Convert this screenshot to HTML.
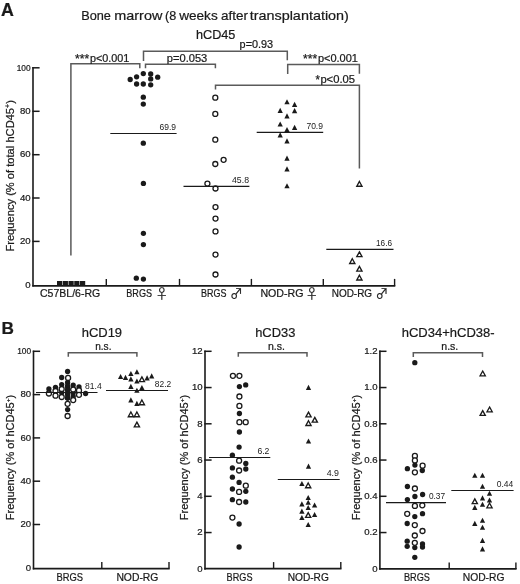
<!DOCTYPE html>
<html><head><meta charset="utf-8"><title>Bone marrow hCD45 figure</title>
<style>
html,body{margin:0;padding:0;background:#fff;}
body{width:520px;height:584px;overflow:hidden;}
svg{display:block;}
svg text{font-family:"Liberation Sans", "DejaVu Sans", sans-serif;fill:#1a1a1a;stroke:#1a1a1a;stroke-width:0.22px;}
</style></head><body>
<svg width="520" height="584" viewBox="0 0 520 584" fill="#1a1a1a">
<text x="1.1" y="15.5" font-size="17.8" font-weight="bold">A</text>
<text x="81.2" y="20.3" font-size="13.3" textLength="29.7" lengthAdjust="spacingAndGlyphs">Bone</text>
<text x="114.3" y="20.3" font-size="13.3" textLength="48.0" lengthAdjust="spacingAndGlyphs">marrow</text>
<text x="165" y="20.3" font-size="13.3" textLength="11.2" lengthAdjust="spacingAndGlyphs">(8</text>
<text x="179.2" y="20.3" font-size="13.3" textLength="38.5" lengthAdjust="spacingAndGlyphs">weeks</text>
<text x="221.1" y="20.3" font-size="13.3" textLength="27.0" lengthAdjust="spacingAndGlyphs">after</text>
<text x="249.7" y="20.3" font-size="13.3" textLength="99.2" lengthAdjust="spacingAndGlyphs">transplantation)</text>
<text x="196" y="38.7" font-size="13.4" textLength="39.4" lengthAdjust="spacingAndGlyphs">hCD45</text>
<line x1="33" y1="67" x2="33" y2="286.6" stroke="#1a1a1a" stroke-width="1.6"/>
<line x1="32.3" y1="67.8" x2="39.6" y2="67.8" stroke="#1a1a1a" stroke-width="1.5"/>
<text x="16.7" y="70.5" font-size="9.6" textLength="13.9" lengthAdjust="spacingAndGlyphs">100</text>
<line x1="32.3" y1="111.3" x2="39.6" y2="111.3" stroke="#1a1a1a" stroke-width="1.5"/>
<text x="30.6" y="114" font-size="9.6" text-anchor="end">80</text>
<line x1="32.3" y1="154.7" x2="39.6" y2="154.7" stroke="#1a1a1a" stroke-width="1.5"/>
<text x="30.6" y="157.4" font-size="9.6" text-anchor="end">60</text>
<line x1="32.3" y1="198" x2="39.6" y2="198" stroke="#1a1a1a" stroke-width="1.5"/>
<text x="30.6" y="200.7" font-size="9.6" text-anchor="end">40</text>
<line x1="32.3" y1="241.4" x2="39.6" y2="241.4" stroke="#1a1a1a" stroke-width="1.5"/>
<text x="30.6" y="244.1" font-size="9.6" text-anchor="end">20</text>
<text x="30.6" y="287.5" font-size="9.6" text-anchor="end">0</text>
<line x1="32.3" y1="285.9" x2="395.3" y2="285.9" stroke="#1a1a1a" stroke-width="1.7"/>
<line x1="106.3" y1="285.9" x2="106.3" y2="278.9" stroke="#1a1a1a" stroke-width="1.4"/>
<line x1="179.5" y1="285.9" x2="179.5" y2="278.9" stroke="#1a1a1a" stroke-width="1.4"/>
<line x1="251.4" y1="285.9" x2="251.4" y2="278.9" stroke="#1a1a1a" stroke-width="1.4"/>
<line x1="323.3" y1="285.9" x2="323.3" y2="278.9" stroke="#1a1a1a" stroke-width="1.4"/>
<line x1="394.6" y1="285.9" x2="394.6" y2="278.9" stroke="#1a1a1a" stroke-width="1.4"/>
<text transform="translate(14.0,251.6) rotate(-90)" font-size="10.3" textLength="151.5" lengthAdjust="spacingAndGlyphs">Frequency (% of total hCD45<tspan font-size="6.5" dy="-3.8">+</tspan><tspan dy="3.8">)</tspan></text>
<text x="40" y="297.1" font-size="10.6" textLength="60.2" lengthAdjust="spacingAndGlyphs">C57BL/6-RG</text>
<text x="126.3" y="297.1" font-size="10.6" textLength="25.7" lengthAdjust="spacingAndGlyphs">BRGS</text>
<text x="201" y="297.1" font-size="10.6" textLength="25.4" lengthAdjust="spacingAndGlyphs">BRGS</text>
<text x="260.4" y="297.1" font-size="10.6" textLength="43.1" lengthAdjust="spacingAndGlyphs">NOD-RG</text>
<text x="331.7" y="297.1" font-size="10.6" textLength="40.4" lengthAdjust="spacingAndGlyphs">NOD-RG</text>
<text x="155.4" y="297.8" font-size="12.6" style="font-family:'Noto Sans CJK JP','DejaVu Sans',sans-serif">♀</text>
<text x="230.0" y="298.0" font-size="12.7" style="font-family:'Noto Sans CJK JP','DejaVu Sans',sans-serif">♂</text>
<text x="305.5" y="297.8" font-size="12.6" style="font-family:'Noto Sans CJK JP','DejaVu Sans',sans-serif">♀</text>
<text x="375.4" y="298.0" font-size="12.7" style="font-family:'Noto Sans CJK JP','DejaVu Sans',sans-serif">♂</text>
<path d="M70.9,255.4V63.8H139.8V68.2" fill="none" stroke="#5a5a5a" stroke-width="1.5"/>
<path d="M143.5,61V51.2H287.3V60.2" fill="none" stroke="#5a5a5a" stroke-width="1.5"/>
<path d="M145.5,68.2V64.2H215.4V68.2" fill="none" stroke="#5a5a5a" stroke-width="1.5"/>
<path d="M287.7,74V64.6H359.4V73.7" fill="none" stroke="#5a5a5a" stroke-width="1.5"/>
<path d="M215.5,89.4V85.3H359.4V168.4" fill="none" stroke="#5a5a5a" stroke-width="1.5"/>
<text x="75" y="62.6" font-size="12.0" textLength="14.3" lengthAdjust="spacingAndGlyphs">***</text>
<text x="89.9" y="61.6" font-size="10.4" textLength="39.5" lengthAdjust="spacingAndGlyphs">p&lt;0.001</text>
<text x="166.8" y="61.7" font-size="10.4" textLength="40.5" lengthAdjust="spacingAndGlyphs">p=0.053</text>
<text x="239.6" y="47.6" font-size="10.4" textLength="33.5" lengthAdjust="spacingAndGlyphs">p=0.93</text>
<text x="303" y="62.5" font-size="12.0" textLength="14.3" lengthAdjust="spacingAndGlyphs">***</text>
<text x="317.9" y="61.5" font-size="10.4" textLength="40.1" lengthAdjust="spacingAndGlyphs">p&lt;0.001</text>
<text x="315.4" y="83.5" font-size="12.0" textLength="4.4" lengthAdjust="spacingAndGlyphs">*</text>
<text x="320.4" y="82.5" font-size="10.4" textLength="34.6" lengthAdjust="spacingAndGlyphs">p&lt;0.05</text>
<rect x="57.00" y="281.0" width="5.2" height="4.6"/>
<rect x="62.75" y="281.0" width="5.2" height="4.6"/>
<rect x="68.50" y="281.0" width="5.2" height="4.6"/>
<rect x="74.25" y="281.0" width="5.2" height="4.6"/>
<rect x="80.00" y="281.0" width="5.2" height="4.6"/>
<circle cx="143.3" cy="73.6" r="2.65"/>
<circle cx="150.7" cy="74" r="2.65"/>
<circle cx="136.6" cy="76.8" r="2.65"/>
<circle cx="130.2" cy="79.5" r="2.65"/>
<circle cx="150.7" cy="78.9" r="2.65"/>
<circle cx="157.7" cy="77.2" r="2.65"/>
<circle cx="136.6" cy="84" r="2.65"/>
<circle cx="143.3" cy="84" r="2.65"/>
<circle cx="150.7" cy="84.8" r="2.65"/>
<circle cx="143.3" cy="97.2" r="2.65"/>
<circle cx="143.3" cy="104.1" r="2.65"/>
<circle cx="143.3" cy="143.2" r="2.65"/>
<circle cx="143.4" cy="183.4" r="2.65"/>
<circle cx="143.4" cy="233.3" r="2.65"/>
<circle cx="143.4" cy="244.6" r="2.65"/>
<circle cx="136.3" cy="278.2" r="2.65"/>
<circle cx="143.4" cy="279.1" r="2.65"/>
<circle cx="215.3" cy="97.7" r="2.5" fill="#fff" stroke="#1a1a1a" stroke-width="1.3"/>
<circle cx="215.3" cy="113.9" r="2.5" fill="#fff" stroke="#1a1a1a" stroke-width="1.3"/>
<circle cx="215.3" cy="139.7" r="2.5" fill="#fff" stroke="#1a1a1a" stroke-width="1.3"/>
<circle cx="223.6" cy="159.8" r="2.5" fill="#fff" stroke="#1a1a1a" stroke-width="1.3"/>
<circle cx="215.3" cy="164" r="2.5" fill="#fff" stroke="#1a1a1a" stroke-width="1.3"/>
<circle cx="207.4" cy="183.6" r="2.5" fill="#fff" stroke="#1a1a1a" stroke-width="1.3"/>
<circle cx="215.5" cy="188.5" r="2.5" fill="#fff" stroke="#1a1a1a" stroke-width="1.3"/>
<circle cx="215.5" cy="207.1" r="2.5" fill="#fff" stroke="#1a1a1a" stroke-width="1.3"/>
<circle cx="215.5" cy="218.6" r="2.5" fill="#fff" stroke="#1a1a1a" stroke-width="1.3"/>
<circle cx="215.5" cy="231.4" r="2.5" fill="#fff" stroke="#1a1a1a" stroke-width="1.3"/>
<circle cx="215.5" cy="254.6" r="2.5" fill="#fff" stroke="#1a1a1a" stroke-width="1.3"/>
<circle cx="215.5" cy="274.5" r="2.5" fill="#fff" stroke="#1a1a1a" stroke-width="1.3"/>
<path d="M287.00,99.15L289.65,104.30L284.35,104.30Z"/>
<path d="M294.60,101.75L297.25,106.90L291.95,106.90Z"/>
<path d="M280.20,107.75L282.85,112.90L277.55,112.90Z"/>
<path d="M294.60,108.05L297.25,113.20L291.95,113.20Z"/>
<path d="M287.00,113.35L289.65,118.50L284.35,118.50Z"/>
<path d="M280.20,121.45L282.85,126.60L277.55,126.60Z"/>
<path d="M294.60,124.85L297.25,130.00L291.95,130.00Z"/>
<path d="M287.00,126.95L289.65,132.10L284.35,132.10Z"/>
<path d="M280.20,132.25L282.85,137.40L277.55,137.40Z"/>
<path d="M287.00,138.25L289.65,143.40L284.35,143.40Z"/>
<path d="M287.00,155.55L289.65,160.70L284.35,160.70Z"/>
<path d="M287.00,166.35L289.65,171.50L284.35,171.50Z"/>
<path d="M287.00,183.15L289.65,188.30L284.35,188.30Z"/>
<path d="M359.40,181.45L362.00,186.20L356.80,186.20Z" fill="#fff" stroke="#1a1a1a" stroke-width="1.35" stroke-linejoin="miter"/>
<path d="M359.40,251.85L362.00,256.60L356.80,256.60Z" fill="#fff" stroke="#1a1a1a" stroke-width="1.35" stroke-linejoin="miter"/>
<path d="M352.30,258.75L354.90,263.50L349.70,263.50Z" fill="#fff" stroke="#1a1a1a" stroke-width="1.35" stroke-linejoin="miter"/>
<path d="M359.40,266.35L362.00,271.10L356.80,271.10Z" fill="#fff" stroke="#1a1a1a" stroke-width="1.35" stroke-linejoin="miter"/>
<path d="M359.40,275.25L362.00,280.00L356.80,280.00Z" fill="#fff" stroke="#1a1a1a" stroke-width="1.35" stroke-linejoin="miter"/>
<line x1="110.3" y1="133.5" x2="176.6" y2="133.5" stroke="#1a1a1a" stroke-width="1.2"/>
<text x="159.5" y="130.4" font-size="9.8" textLength="16.5" lengthAdjust="spacingAndGlyphs" style="stroke-width:0">69.9</text>
<line x1="183.5" y1="186.4" x2="249.4" y2="186.4" stroke="#1a1a1a" stroke-width="1.2"/>
<text x="232" y="182.7" font-size="9.8" textLength="17" lengthAdjust="spacingAndGlyphs" style="stroke-width:0">45.8</text>
<line x1="256.7" y1="132.3" x2="323.2" y2="132.3" stroke="#1a1a1a" stroke-width="1.2"/>
<text x="306.4" y="128.7" font-size="9.8" textLength="16.6" lengthAdjust="spacingAndGlyphs" style="stroke-width:0">70.9</text>
<line x1="326.3" y1="249.4" x2="393.5" y2="249.4" stroke="#1a1a1a" stroke-width="1.2"/>
<text x="376" y="245.9" font-size="9.8" textLength="16" lengthAdjust="spacingAndGlyphs" style="stroke-width:0">16.6</text>
<text x="1.4" y="334.2" font-size="17.2" font-weight="bold">B</text>
<text x="81.7" y="336.7" font-size="13.4" textLength="40.4" lengthAdjust="spacingAndGlyphs">hCD19</text>
<text x="95.2" y="350.4" font-size="10.3" textLength="16.3" lengthAdjust="spacingAndGlyphs">n.s.</text>
<path d="M68.3,356.8V352.7H136.9V356.8" fill="none" stroke="#5a5a5a" stroke-width="1.5"/>
<line x1="33.5" y1="350.6" x2="33.5" y2="569.4" stroke="#1a1a1a" stroke-width="1.6"/>
<line x1="32.8" y1="351.3" x2="40.1" y2="351.3" stroke="#1a1a1a" stroke-width="1.5"/>
<text x="17.2" y="354" font-size="9.6" textLength="13.9" lengthAdjust="spacingAndGlyphs">100</text>
<line x1="32.8" y1="394.6" x2="40.1" y2="394.6" stroke="#1a1a1a" stroke-width="1.5"/>
<text x="31.1" y="397.3" font-size="9.6" text-anchor="end">80</text>
<line x1="32.8" y1="437.9" x2="40.1" y2="437.9" stroke="#1a1a1a" stroke-width="1.5"/>
<text x="31.1" y="440.6" font-size="9.6" text-anchor="end">60</text>
<line x1="32.8" y1="481.2" x2="40.1" y2="481.2" stroke="#1a1a1a" stroke-width="1.5"/>
<text x="31.1" y="483.9" font-size="9.6" text-anchor="end">40</text>
<line x1="32.8" y1="524.5" x2="40.1" y2="524.5" stroke="#1a1a1a" stroke-width="1.5"/>
<text x="31.1" y="527.2" font-size="9.6" text-anchor="end">20</text>
<text x="31.1" y="570.5" font-size="9.6" text-anchor="end">0</text>
<line x1="32.8" y1="568.6" x2="169.7" y2="568.6" stroke="#1a1a1a" stroke-width="1.7"/>
<line x1="101.8" y1="568.6" x2="101.8" y2="562.1" stroke="#1a1a1a" stroke-width="1.4"/>
<line x1="169" y1="568.6" x2="169" y2="562.1" stroke="#1a1a1a" stroke-width="1.4"/>
<text transform="translate(14.0,520.2) rotate(-90)" font-size="10.2" textLength="125.5" lengthAdjust="spacingAndGlyphs">Frequency (% of hCD45<tspan font-size="6.2" dy="-3.6">+</tspan><tspan dy="3.6">)</tspan></text>
<text x="56.4" y="581.1" font-size="10.9" textLength="26.6" lengthAdjust="spacingAndGlyphs">BRGS</text>
<text x="116.4" y="581.1" font-size="10.9" textLength="42.0" lengthAdjust="spacingAndGlyphs">NOD-RG</text>
<circle cx="48.9" cy="389" r="2.65"/>
<circle cx="55.5" cy="387.3" r="2.65"/>
<circle cx="61.7" cy="384.6" r="2.65"/>
<circle cx="61.7" cy="377.5" r="2.65"/>
<circle cx="67.6" cy="371.5" r="2.65"/>
<circle cx="67.6" cy="382.4" r="2.65"/>
<circle cx="67.6" cy="386.2" r="2.65"/>
<circle cx="67.6" cy="390" r="2.65"/>
<circle cx="67.6" cy="394" r="2.65"/>
<circle cx="67.6" cy="398" r="2.65"/>
<circle cx="73.2" cy="385.1" r="2.65"/>
<circle cx="73.2" cy="392.8" r="2.65"/>
<circle cx="73.2" cy="396.4" r="2.65"/>
<circle cx="79" cy="386.8" r="2.65"/>
<circle cx="85.6" cy="393.5" r="2.65"/>
<circle cx="61.7" cy="392.4" r="2.65"/>
<circle cx="67.6" cy="409.6" r="2.65"/>
<circle cx="68.1" cy="377.9" r="2.5" fill="#fff" stroke="#1a1a1a" stroke-width="1.3"/>
<circle cx="48.9" cy="393.5" r="2.5" fill="#fff" stroke="#1a1a1a" stroke-width="1.3"/>
<circle cx="55.5" cy="391" r="2.5" fill="#fff" stroke="#1a1a1a" stroke-width="1.3"/>
<circle cx="55.5" cy="395.7" r="2.5" fill="#fff" stroke="#1a1a1a" stroke-width="1.3"/>
<circle cx="61.7" cy="389" r="2.5" fill="#fff" stroke="#1a1a1a" stroke-width="1.3"/>
<circle cx="61.7" cy="397" r="2.5" fill="#fff" stroke="#1a1a1a" stroke-width="1.3"/>
<circle cx="73.2" cy="389.5" r="2.5" fill="#fff" stroke="#1a1a1a" stroke-width="1.3"/>
<circle cx="73.2" cy="400.1" r="2.5" fill="#fff" stroke="#1a1a1a" stroke-width="1.3"/>
<circle cx="79" cy="390.4" r="2.5" fill="#fff" stroke="#1a1a1a" stroke-width="1.3"/>
<circle cx="79" cy="394.8" r="2.5" fill="#fff" stroke="#1a1a1a" stroke-width="1.3"/>
<circle cx="67.6" cy="403.8" r="2.5" fill="#fff" stroke="#1a1a1a" stroke-width="1.3"/>
<circle cx="67.6" cy="416" r="2.5" fill="#fff" stroke="#1a1a1a" stroke-width="1.3"/>
<circle cx="67.6" cy="386.2" r="2.65"/>
<circle cx="67.6" cy="390" r="2.65"/>
<circle cx="67.6" cy="394" r="2.65"/>
<circle cx="67.6" cy="398" r="2.65"/>
<path d="M141.90,376.85L144.50,381.60L139.30,381.60Z" fill="#fff" stroke="#1a1a1a" stroke-width="1.35" stroke-linejoin="miter"/>
<path d="M141.90,399.95L144.50,404.70L139.30,404.70Z" fill="#fff" stroke="#1a1a1a" stroke-width="1.35" stroke-linejoin="miter"/>
<path d="M130.90,411.95L133.50,416.70L128.30,416.70Z" fill="#fff" stroke="#1a1a1a" stroke-width="1.35" stroke-linejoin="miter"/>
<path d="M136.90,411.95L139.50,416.70L134.30,416.70Z" fill="#fff" stroke="#1a1a1a" stroke-width="1.35" stroke-linejoin="miter"/>
<path d="M136.90,422.15L139.50,426.90L134.30,426.90Z" fill="#fff" stroke="#1a1a1a" stroke-width="1.35" stroke-linejoin="miter"/>
<path d="M136.90,369.15L139.55,374.30L134.25,374.30Z"/>
<path d="M130.90,370.95L133.55,376.10L128.25,376.10Z"/>
<path d="M120.60,373.95L123.25,379.10L117.95,379.10Z"/>
<path d="M125.50,374.85L128.15,380.00L122.85,380.00Z"/>
<path d="M130.90,376.35L133.55,381.50L128.25,381.50Z"/>
<path d="M151.70,373.35L154.35,378.50L149.05,378.50Z"/>
<path d="M147.10,375.35L149.75,380.50L144.45,380.50Z"/>
<path d="M136.90,378.45L139.55,383.60L134.25,383.60Z"/>
<path d="M130.90,383.75L133.55,388.90L128.25,388.90Z"/>
<path d="M141.90,384.95L144.55,390.10L139.25,390.10Z"/>
<path d="M136.90,387.65L139.55,392.80L134.25,392.80Z"/>
<path d="M130.90,397.25L133.55,402.40L128.25,402.40Z"/>
<path d="M136.90,400.85L139.55,406.00L134.25,406.00Z"/>
<line x1="36" y1="392.5" x2="97.5" y2="392.5" stroke="#1a1a1a" stroke-width="1.2"/>
<text x="85.1" y="389.3" font-size="9.8" textLength="16.6" lengthAdjust="spacingAndGlyphs" style="stroke-width:0">81.4</text>
<line x1="106" y1="390.5" x2="168" y2="390.5" stroke="#1a1a1a" stroke-width="1.2"/>
<text x="154.8" y="386.9" font-size="9.8" textLength="16.4" lengthAdjust="spacingAndGlyphs" style="stroke-width:0">82.2</text>
<text x="255.2" y="336.8" font-size="13.4" textLength="40.2" lengthAdjust="spacingAndGlyphs">hCD33</text>
<text x="267.9" y="350" font-size="10.3" textLength="17" lengthAdjust="spacingAndGlyphs">n.s.</text>
<path d="M238.3,356.8V352.7H307V356.8" fill="none" stroke="#5a5a5a" stroke-width="1.5"/>
<line x1="205" y1="350.6" x2="205" y2="569.7" stroke="#1a1a1a" stroke-width="1.6"/>
<line x1="204.3" y1="351.3" x2="211.6" y2="351.3" stroke="#1a1a1a" stroke-width="1.5"/>
<text x="202.6" y="354" font-size="9.6" text-anchor="end">12</text>
<line x1="204.3" y1="387.55" x2="211.6" y2="387.55" stroke="#1a1a1a" stroke-width="1.5"/>
<text x="202.6" y="390.25" font-size="9.6" text-anchor="end">10</text>
<line x1="204.3" y1="423.8" x2="211.6" y2="423.8" stroke="#1a1a1a" stroke-width="1.5"/>
<text x="202.6" y="426.5" font-size="9.6" text-anchor="end">8</text>
<line x1="204.3" y1="460.05" x2="211.6" y2="460.05" stroke="#1a1a1a" stroke-width="1.5"/>
<text x="202.6" y="462.75" font-size="9.6" text-anchor="end">6</text>
<line x1="204.3" y1="496.3" x2="211.6" y2="496.3" stroke="#1a1a1a" stroke-width="1.5"/>
<text x="202.6" y="499" font-size="9.6" text-anchor="end">4</text>
<line x1="204.3" y1="532.55" x2="211.6" y2="532.55" stroke="#1a1a1a" stroke-width="1.5"/>
<text x="202.6" y="535.25" font-size="9.6" text-anchor="end">2</text>
<text x="202.6" y="571.5" font-size="9.6" text-anchor="end">0</text>
<line x1="204.3" y1="568.6" x2="341.5" y2="568.6" stroke="#1a1a1a" stroke-width="1.7"/>
<line x1="273.6" y1="568.6" x2="273.6" y2="562.1" stroke="#1a1a1a" stroke-width="1.4"/>
<line x1="340.8" y1="568.6" x2="340.8" y2="562.1" stroke="#1a1a1a" stroke-width="1.4"/>
<text transform="translate(187.8,520.2) rotate(-90)" font-size="10.2" textLength="125.5" lengthAdjust="spacingAndGlyphs">Frequency (% of hCD45<tspan font-size="6.2" dy="-3.6">+</tspan><tspan dy="3.6">)</tspan></text>
<text x="226.6" y="581.1" font-size="10.9" textLength="25.9" lengthAdjust="spacingAndGlyphs">BRGS</text>
<text x="287.7" y="581.1" font-size="10.9" textLength="41.1" lengthAdjust="spacingAndGlyphs">NOD-RG</text>
<circle cx="245.7" cy="384.9" r="2.65"/>
<circle cx="239.4" cy="386.6" r="2.65"/>
<circle cx="239.4" cy="413.5" r="2.65"/>
<circle cx="239.4" cy="432" r="2.65"/>
<circle cx="239.1" cy="447.1" r="2.65"/>
<circle cx="232.4" cy="455.2" r="2.65"/>
<circle cx="245.8" cy="463.4" r="2.65"/>
<circle cx="232.4" cy="467.9" r="2.65"/>
<circle cx="245.8" cy="469" r="2.65"/>
<circle cx="232.4" cy="477.2" r="2.65"/>
<circle cx="239.1" cy="482.4" r="2.65"/>
<circle cx="232.4" cy="489" r="2.65"/>
<circle cx="245.8" cy="491.3" r="2.65"/>
<circle cx="232.4" cy="499.7" r="2.65"/>
<circle cx="245.8" cy="502" r="2.65"/>
<circle cx="239.1" cy="524" r="2.65"/>
<circle cx="239.1" cy="547" r="2.65"/>
<circle cx="232.9" cy="375.8" r="2.5" fill="#fff" stroke="#1a1a1a" stroke-width="1.3"/>
<circle cx="239.4" cy="375.8" r="2.5" fill="#fff" stroke="#1a1a1a" stroke-width="1.3"/>
<circle cx="239.4" cy="396.5" r="2.5" fill="#fff" stroke="#1a1a1a" stroke-width="1.3"/>
<circle cx="239.4" cy="405.9" r="2.5" fill="#fff" stroke="#1a1a1a" stroke-width="1.3"/>
<circle cx="239.4" cy="422.2" r="2.5" fill="#fff" stroke="#1a1a1a" stroke-width="1.3"/>
<circle cx="245.7" cy="422.2" r="2.5" fill="#fff" stroke="#1a1a1a" stroke-width="1.3"/>
<circle cx="239.1" cy="460.7" r="2.5" fill="#fff" stroke="#1a1a1a" stroke-width="1.3"/>
<circle cx="239.1" cy="470.5" r="2.5" fill="#fff" stroke="#1a1a1a" stroke-width="1.3"/>
<circle cx="245.8" cy="485.7" r="2.5" fill="#fff" stroke="#1a1a1a" stroke-width="1.3"/>
<circle cx="239.1" cy="491.9" r="2.5" fill="#fff" stroke="#1a1a1a" stroke-width="1.3"/>
<circle cx="239.1" cy="502" r="2.5" fill="#fff" stroke="#1a1a1a" stroke-width="1.3"/>
<circle cx="232.4" cy="517.6" r="2.5" fill="#fff" stroke="#1a1a1a" stroke-width="1.3"/>
<path d="M308.50,384.85L311.15,390.00L305.85,390.00Z"/>
<path d="M308.50,438.45L311.15,443.60L305.85,443.60Z"/>
<path d="M308.50,463.55L311.15,468.70L305.85,468.70Z"/>
<path d="M301.90,480.95L304.55,486.10L299.25,486.10Z"/>
<path d="M308.20,494.95L310.85,500.10L305.55,500.10Z"/>
<path d="M308.20,499.65L310.85,504.80L305.55,504.80Z"/>
<path d="M301.90,501.35L304.55,506.50L299.25,506.50Z"/>
<path d="M314.60,502.45L317.25,507.60L311.95,507.60Z"/>
<path d="M308.20,504.95L310.85,510.10L305.55,510.10Z"/>
<path d="M301.90,508.55L304.55,513.70L299.25,513.70Z"/>
<path d="M314.60,511.95L317.25,517.10L311.95,517.10Z"/>
<path d="M301.90,514.95L304.55,520.10L299.25,520.10Z"/>
<path d="M308.20,521.95L310.85,527.10L305.55,527.10Z"/>
<path d="M308.50,412.15L311.10,416.90L305.90,416.90Z" fill="#fff" stroke="#1a1a1a" stroke-width="1.35" stroke-linejoin="miter"/>
<path d="M314.80,417.35L317.40,422.10L312.20,422.10Z" fill="#fff" stroke="#1a1a1a" stroke-width="1.35" stroke-linejoin="miter"/>
<path d="M308.50,420.75L311.10,425.50L305.90,425.50Z" fill="#fff" stroke="#1a1a1a" stroke-width="1.35" stroke-linejoin="miter"/>
<path d="M308.20,482.95L310.80,487.70L305.60,487.70Z" fill="#fff" stroke="#1a1a1a" stroke-width="1.35" stroke-linejoin="miter"/>
<path d="M308.20,512.65L310.80,517.40L305.60,517.40Z" fill="#fff" stroke="#1a1a1a" stroke-width="1.35" stroke-linejoin="miter"/>
<line x1="209" y1="457.5" x2="270.3" y2="457.5" stroke="#1a1a1a" stroke-width="1.2"/>
<text x="257.4" y="453.9" font-size="9.8" textLength="12" lengthAdjust="spacingAndGlyphs" style="stroke-width:0">6.2</text>
<line x1="277.8" y1="479.5" x2="339.7" y2="479.5" stroke="#1a1a1a" stroke-width="1.2"/>
<text x="326.7" y="476.1" font-size="9.8" textLength="12.3" lengthAdjust="spacingAndGlyphs" style="stroke-width:0">4.9</text>
<text x="401.7" y="336.8" font-size="13.4" textLength="92.9" lengthAdjust="spacingAndGlyphs">hCD34+hCD38-</text>
<text x="441.3" y="350" font-size="10.3" textLength="17" lengthAdjust="spacingAndGlyphs">n.s.</text>
<path d="M413.3,357V352.7H482.5V357" fill="none" stroke="#5a5a5a" stroke-width="1.5"/>
<line x1="379.9" y1="350.6" x2="379.9" y2="569.7" stroke="#1a1a1a" stroke-width="1.6"/>
<line x1="379.2" y1="351.3" x2="386.5" y2="351.3" stroke="#1a1a1a" stroke-width="1.5"/>
<text x="377.5" y="354" font-size="9.6" text-anchor="end">1.2</text>
<line x1="379.2" y1="387.55" x2="386.5" y2="387.55" stroke="#1a1a1a" stroke-width="1.5"/>
<text x="377.5" y="390.25" font-size="9.6" text-anchor="end">1.0</text>
<line x1="379.2" y1="423.8" x2="386.5" y2="423.8" stroke="#1a1a1a" stroke-width="1.5"/>
<text x="377.5" y="426.5" font-size="9.6" text-anchor="end">0.8</text>
<line x1="379.2" y1="460.05" x2="386.5" y2="460.05" stroke="#1a1a1a" stroke-width="1.5"/>
<text x="377.5" y="462.75" font-size="9.6" text-anchor="end">0.6</text>
<line x1="379.2" y1="496.3" x2="386.5" y2="496.3" stroke="#1a1a1a" stroke-width="1.5"/>
<text x="377.5" y="499" font-size="9.6" text-anchor="end">0.4</text>
<line x1="379.2" y1="532.55" x2="386.5" y2="532.55" stroke="#1a1a1a" stroke-width="1.5"/>
<text x="377.5" y="535.25" font-size="9.6" text-anchor="end">0.2</text>
<text x="377.5" y="571.5" font-size="9.6" text-anchor="end">0</text>
<line x1="379.2" y1="568.9" x2="516.6" y2="568.9" stroke="#1a1a1a" stroke-width="1.7"/>
<line x1="449.2" y1="568.9" x2="449.2" y2="562.4" stroke="#1a1a1a" stroke-width="1.4"/>
<line x1="515.9" y1="568.9" x2="515.9" y2="562.4" stroke="#1a1a1a" stroke-width="1.4"/>
<text transform="translate(359.8,520.2) rotate(-90)" font-size="10.2" textLength="125.5" lengthAdjust="spacingAndGlyphs">Frequency (% of hCD45<tspan font-size="6.2" dy="-3.6">+</tspan><tspan dy="3.6">)</tspan></text>
<text x="404" y="581.1" font-size="10.9" textLength="26.0" lengthAdjust="spacingAndGlyphs">BRGS</text>
<text x="462.7" y="581.1" font-size="10.9" textLength="41.8" lengthAdjust="spacingAndGlyphs">NOD-RG</text>
<circle cx="414.8" cy="362.7" r="2.65"/>
<circle cx="414.9" cy="465.1" r="2.65"/>
<circle cx="407.4" cy="468.7" r="2.65"/>
<circle cx="422.3" cy="470.5" r="2.65"/>
<circle cx="407.4" cy="486.5" r="2.65"/>
<circle cx="422.6" cy="494.5" r="2.65"/>
<circle cx="414.9" cy="496.5" r="2.65"/>
<circle cx="407.4" cy="499.6" r="2.65"/>
<circle cx="422.5" cy="513.7" r="2.65"/>
<circle cx="414.8" cy="516.6" r="2.65"/>
<circle cx="407.2" cy="523.5" r="2.65"/>
<circle cx="407.2" cy="541.2" r="2.65"/>
<circle cx="422.5" cy="543.9" r="2.65"/>
<circle cx="407.2" cy="546.3" r="2.65"/>
<circle cx="414.8" cy="547.6" r="2.65"/>
<circle cx="422.5" cy="547.1" r="2.65"/>
<circle cx="414.8" cy="557.3" r="2.65"/>
<circle cx="414.9" cy="455.9" r="2.5" fill="#fff" stroke="#1a1a1a" stroke-width="1.3"/>
<circle cx="414.9" cy="460.4" r="2.5" fill="#fff" stroke="#1a1a1a" stroke-width="1.3"/>
<circle cx="422.6" cy="465.7" r="2.5" fill="#fff" stroke="#1a1a1a" stroke-width="1.3"/>
<circle cx="414.9" cy="472.3" r="2.5" fill="#fff" stroke="#1a1a1a" stroke-width="1.3"/>
<circle cx="414.9" cy="488.5" r="2.5" fill="#fff" stroke="#1a1a1a" stroke-width="1.3"/>
<circle cx="414.9" cy="505.9" r="2.5" fill="#fff" stroke="#1a1a1a" stroke-width="1.3"/>
<circle cx="422.3" cy="505.3" r="2.5" fill="#fff" stroke="#1a1a1a" stroke-width="1.3"/>
<circle cx="407.2" cy="513.8" r="2.5" fill="#fff" stroke="#1a1a1a" stroke-width="1.3"/>
<circle cx="414.8" cy="525.1" r="2.5" fill="#fff" stroke="#1a1a1a" stroke-width="1.3"/>
<circle cx="422.5" cy="531" r="2.5" fill="#fff" stroke="#1a1a1a" stroke-width="1.3"/>
<circle cx="414.8" cy="535.5" r="2.5" fill="#fff" stroke="#1a1a1a" stroke-width="1.3"/>
<circle cx="414.8" cy="542.8" r="2.5" fill="#fff" stroke="#1a1a1a" stroke-width="1.3"/>
<path d="M482.70,371.05L485.30,375.80L480.10,375.80Z" fill="#fff" stroke="#1a1a1a" stroke-width="1.35" stroke-linejoin="miter"/>
<path d="M482.70,410.65L485.30,415.40L480.10,415.40Z" fill="#fff" stroke="#1a1a1a" stroke-width="1.35" stroke-linejoin="miter"/>
<path d="M489.60,407.05L492.20,411.80L487.00,411.80Z" fill="#fff" stroke="#1a1a1a" stroke-width="1.35" stroke-linejoin="miter"/>
<path d="M474.80,498.85L477.40,503.60L472.20,503.60Z" fill="#fff" stroke="#1a1a1a" stroke-width="1.35" stroke-linejoin="miter"/>
<path d="M489.50,503.05L492.10,507.80L486.90,507.80Z" fill="#fff" stroke="#1a1a1a" stroke-width="1.35" stroke-linejoin="miter"/>
<path d="M474.80,472.65L477.45,477.80L472.15,477.80Z"/>
<path d="M482.50,472.65L485.15,477.80L479.85,477.80Z"/>
<path d="M482.50,483.65L485.15,488.80L479.85,488.80Z"/>
<path d="M489.50,490.65L492.15,495.80L486.85,495.80Z"/>
<path d="M482.50,495.35L485.15,500.50L479.85,500.50Z"/>
<path d="M489.50,497.45L492.15,502.60L486.85,502.60Z"/>
<path d="M474.80,504.85L477.45,510.00L472.15,510.00Z"/>
<path d="M482.50,501.65L485.15,506.80L479.85,506.80Z"/>
<path d="M474.80,520.75L477.45,525.90L472.15,525.90Z"/>
<path d="M482.50,517.65L485.15,522.80L479.85,522.80Z"/>
<path d="M482.50,524.65L485.15,529.80L479.85,529.80Z"/>
<path d="M482.50,537.75L485.15,542.90L479.85,542.90Z"/>
<path d="M482.50,546.25L485.15,551.40L479.85,551.40Z"/>
<line x1="386" y1="502.7" x2="446" y2="502.7" stroke="#1a1a1a" stroke-width="1.2"/>
<text x="428.9" y="499" font-size="9.8" textLength="16.2" lengthAdjust="spacingAndGlyphs" style="stroke-width:0">0.37</text>
<line x1="451.3" y1="490.5" x2="513.6" y2="490.5" stroke="#1a1a1a" stroke-width="1.2"/>
<text x="496.7" y="486.7" font-size="9.8" textLength="16.5" lengthAdjust="spacingAndGlyphs" style="stroke-width:0">0.44</text>
</svg>
</body></html>
